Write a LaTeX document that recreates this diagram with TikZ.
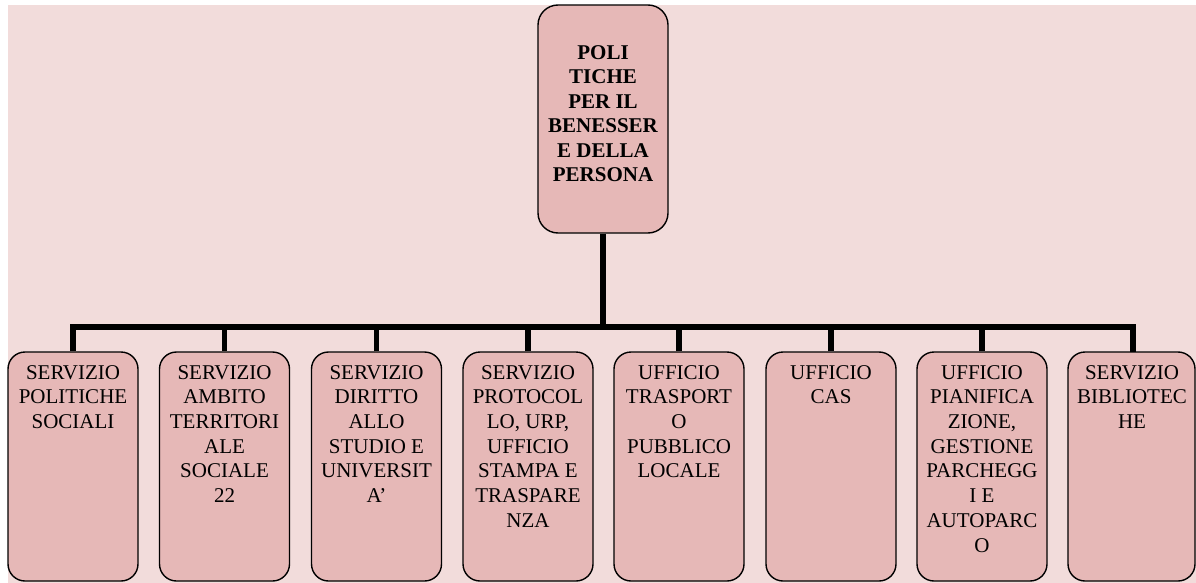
\documentclass[tikz,border=0pt]{standalone}
\usepackage{fontspec}
\setmainfont{Liberation Serif}
\definecolor{pagebg}{RGB}{242,220,219}
\definecolor{boxfill}{RGB}{230,184,183}
\begin{document}
\begin{tikzpicture}[x=1pt,y=-1pt,
  unit/.style={draw=black, line width=1.4pt, fill=boxfill, rounded corners=17pt,
    minimum width=130pt, inner sep=0pt},
  headunit/.style={unit, rounded corners=20pt, minimum height=228pt},
  subunit/.style={unit, minimum height=229pt},
  unittext/.style={anchor=north, inner sep=0pt, align=center,
    font=\fontsize{21}{24.7}\selectfont},
  link/.style={line width=5.8pt, line join=miter}]
  % page
  \useasboundingbox (0,0) rectangle (1196,583);
  \fill[pagebg] (8,5) rectangle (1196,583);

  % head of the department
  \node[headunit] (top) at (603,119) {};
  \node[unittext, font=\bfseries\fontsize{21}{24.5}\selectfont] (topt) at (603,45)
    {POLI\\TICHE\\PER IL\\BENESSER\\E DELLA\\PERSONA};

  % services and offices
  \node[subunit] (b1) at (73,466.5) {};
  \node[subunit] (b2) at (224.5,466.5) {};
  \node[subunit] (b3) at (376.5,466.5) {};
  \node[subunit] (b4) at (528,466.5) {};
  \node[subunit] (b5) at (679,466.5) {};
  \node[subunit] (b6) at (831,466.5) {};
  \node[subunit] (b7) at (982,466.5) {};
  \node[subunit, minimum width=127pt] (b8) at (1131.5,466.5) {};

  \node[unittext] (b1t) at (73,365) {SERVIZIO\\POLITICHE\\SOCIALI};
  \node[unittext] (b2t) at (224.5,365) {SERVIZIO\\AMBITO\\TERRITORI\\ALE\\SOCIALE\\22};
  \node[unittext] (b3t) at (376.5,365) {SERVIZIO\\DIRITTO\\ALLO\\STUDIO E\\UNIVERSIT\\A’};
  \node[unittext] (b4t) at (528,365) {SERVIZIO\\PROTOCOL\\LO, URP,\\UFFICIO\\STAMPA E\\TRASPARE\\NZA};
  \node[unittext] (b5t) at (679,365) {UFFICIO\\TRASPORT\\O\\PUBBLICO\\LOCALE};
  \node[unittext] (b6t) at (831,365) {UFFICIO\\CAS};
  \node[unittext] (b7t) at (982,365) {UFFICIO\\PIANIFICA\\ZIONE,\\GESTIONE\\PARCHEGG\\I E\\AUTOPARC\\O};
  \node[unittext] (b8t) at (1132,365) {SERVIZIO\\BIBLIOTEC\\HE};

  % connectors
  \coordinate (bus) at (603,327);
  \coordinate (b8top) at (1133,352);
  \draw[link] (top.south) -- (bus);
  \draw[link] (b1.north) |- (bus) -| (b8top);
  \foreach \k in {2,...,7}
    \draw[link] (b\k.north) -- (b\k.north |- bus);
\end{tikzpicture}
\end{document}
